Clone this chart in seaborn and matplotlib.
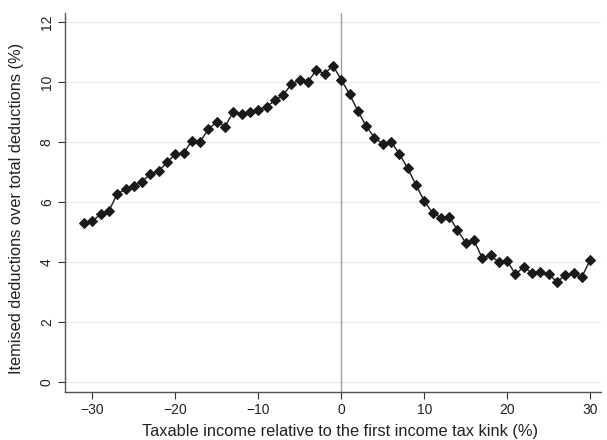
import matplotlib
matplotlib.use("Agg")
import matplotlib.pyplot as plt
import seaborn as sns
import pandas as pd

# Income bins relative to the first kink (%)
income_bin = list(range(-31, 31))

# Share of itemised deductions in total deductions (%)
itemised_share = [
    5.31, 5.36, 5.59, 5.70, 6.27, 6.42, 6.53, 6.68, 6.93, 7.02,
    7.32, 7.59, 7.62, 8.04, 8.01, 8.43, 8.66, 8.51, 9.01, 8.92,
    8.99, 9.06, 9.17, 9.38, 9.56, 9.92, 10.06, 10.01, 10.39, 10.27,
    10.54, 10.07, 9.59, 9.03, 8.53, 8.14, 7.93, 8.01, 7.60, 7.13,
    6.57, 6.03, 5.64, 5.48, 5.51, 5.07, 4.64, 4.72, 4.13, 4.23,
    3.99, 4.04, 3.59, 3.84, 3.62, 3.66, 3.59, 3.34, 3.56, 3.63,
    3.50, 4.07,
]

x_ticks = [-30, -20, -10, 0, 10, 20, 30]
y_ticks = [0, 2, 4, 6, 8, 10, 12]

df = pd.DataFrame({"bin": income_bin, "share": itemised_share})

sns.set_theme(style="white")
plt.rcParams["font.family"] = ["Liberation Sans", "DejaVu Sans"]

fig = plt.figure(figsize=(6.07, 4.40), dpi=100)
ax = fig.add_axes([0.107, 0.109, 0.883, 0.862])

for y in y_ticks:
    ax.axhline(y, color="#ebebeb", linewidth=0.9, zorder=0)
ax.axvline(0, color="#a0a0a0", linewidth=1.0, zorder=1)

sns.lineplot(data=df, x="bin", y="share", ax=ax, color="#1a1a1a",
             linewidth=1.0, marker="D", markersize=5.2,
             markeredgecolor="#1a1a1a", markerfacecolor="#1a1a1a", zorder=3)

ax.set_xlim(-33.3, 31.3)
ax.set_ylim(-0.33, 12.3)
ax.set_xticks(x_ticks)
ax.set_xticklabels([str(t).replace("-", "\u2212") for t in x_ticks])
ax.set_yticks(y_ticks)
ax.set_yticklabels([str(t) for t in y_ticks], rotation=90, va="center")

ax.tick_params(axis="both", which="major", direction="out", length=5,
               width=0.8, color="#333333", labelsize=10, labelcolor="#222222",
               left=True, bottom=True, pad=3)

for side in ["top", "right"]:
    ax.spines[side].set_visible(False)
for side in ["left", "bottom"]:
    ax.spines[side].set_color("#555555")
    ax.spines[side].set_linewidth(1.0)

ax.set_xlabel("Taxable income relative to the first income tax kink (%)",
              fontsize=11.8, color="#222222")
ax.set_ylabel("Itemised deductions over total deductions (%)",
              fontsize=11.8, color="#222222")
ax.xaxis.set_label_coords(0.513, -0.085)
ax.yaxis.set_label_coords(-0.076, 0.483)

fig.savefig("out.png", dpi=100, facecolor="white")
